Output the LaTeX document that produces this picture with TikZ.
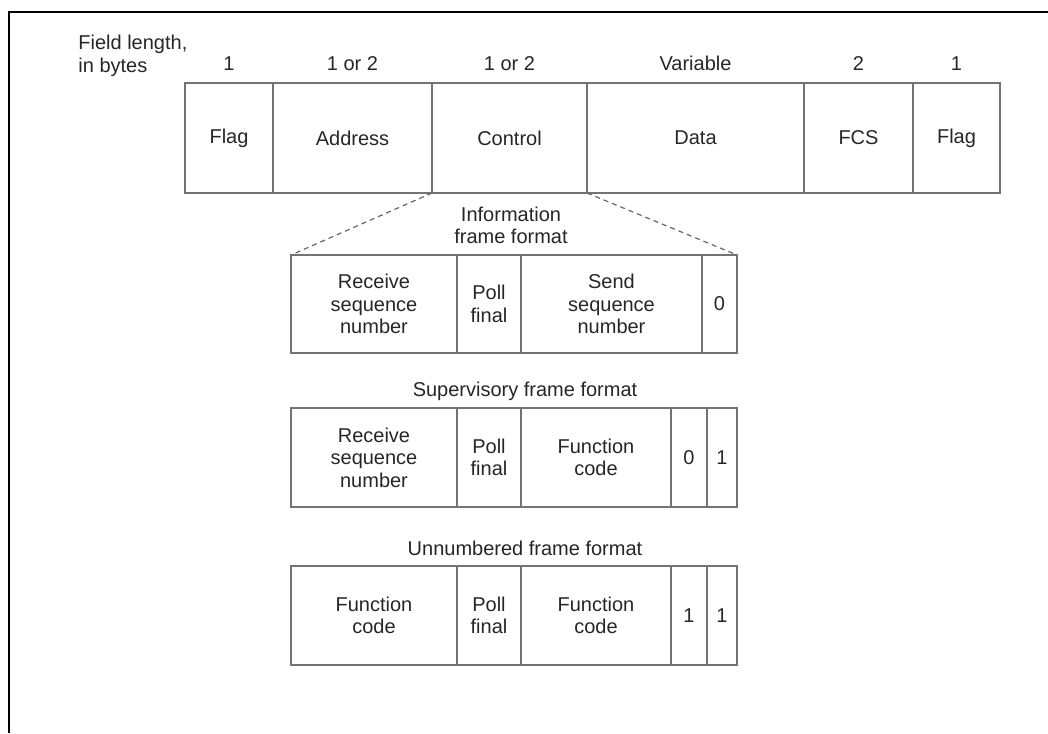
\documentclass[tikz,border=0pt]{standalone}
\usepackage{fontspec}
\setmainfont{Liberation Sans}
\usetikzlibrary{positioning}

\tikzset{
  cell/.style={draw=black!55, line width=0.8pt, rectangle, inner sep=0pt, outer sep=0pt,
    align=center, text=black!85, font=\fontsize{10}{11.3}\selectfont},
  toprow/.style={cell, minimum height=55pt},
  subrow/.style={cell, minimum height=49.5pt},
  lenlabel/.style={inner sep=0pt, text depth=0pt, text=black!85, font=\fontsize{10}{11.3}\selectfont},
  fmttitle/.style={inner sep=0pt, align=center, text=black!85, font=\fontsize{10}{11}\selectfont},
  zoomline/.style={draw=black!60, line width=0.6pt, dash pattern=on 2.5pt off 2pt},
}

\begin{document}
\begin{tikzpicture}[x=0.5pt, y=-0.5pt]
  \useasboundingbox (0,0) rectangle (1048,733);

  % Outer frame, top and left edges
  \draw[line width=1pt] (1048,12) -- (8.5,12) -- (8.5,733);

  % Field length caption
  \node[lenlabel, align=left, anchor=north west] (caption) at (78,35) {Field length,\\in bytes};

  % Main frame
  \node[toprow, minimum width=44pt, anchor=north west] (flagA) at (185,83) {Flag};
  \node[toprow, minimum width=79.5pt, right=0pt of flagA] (addr) {Address};
  \node[toprow, minimum width=77.5pt, right=0pt of addr] (ctrl) {Control};
  \node[toprow, minimum width=108.5pt, right=0pt of ctrl] (data) {Data};
  \node[toprow, minimum width=54.5pt, right=0pt of data] (fcs) {FCS};
  \node[toprow, minimum width=43.5pt, right=0pt of fcs] (flagB) {Flag};

  % Field lengths
  \node[lenlabel, above=6pt of flagA.north] (lenflagA) {1};
  \node[lenlabel, above=6pt of addr.north] (lenaddr) {1 or 2};
  \node[lenlabel, above=6pt of ctrl.north] (lenctrl) {1 or 2};
  \node[lenlabel, above=6pt of data.north] (lendata) {Variable};
  \node[lenlabel, above=6pt of fcs.north] (lenfcs) {2};
  \node[lenlabel, above=6pt of flagB.north] (lenflagB) {1};

  % Information frame format
  \node[fmttitle, anchor=north] (infotitle) at (511,207) {Information\\frame format};
  \node[subrow, minimum height=49pt, minimum width=83pt, anchor=north west] (infoRecv) at (291,255) {Receive\\sequence\\number};
  \node[subrow, minimum height=49pt, minimum width=32pt, right=0pt of infoRecv] (infoPoll) {Poll\\final};
  \node[subrow, minimum height=49pt, minimum width=90.5pt, right=0pt of infoPoll] (infoSend) {Send\\sequence\\number};
  \node[subrow, minimum height=49pt, minimum width=17.5pt, right=0pt of infoSend] (infoBit) {0};

  % Dashed zoom lines from the control field
  \draw[zoomline] (ctrl.south west) -- (infoRecv.north west);
  \draw[zoomline] (ctrl.south east) -- (infoBit.north east);

  % Supervisory frame format
  \node[fmttitle, anchor=base] (suptitle) at (525,396) {Supervisory frame format};
  \node[subrow, minimum width=83pt, anchor=north west] (supRecv) at (291,408) {Receive\\sequence\\number};
  \node[subrow, minimum width=32pt, right=0pt of supRecv] (supPoll) {Poll\\final};
  \node[subrow, minimum width=75pt, right=0pt of supPoll] (supFunc) {Function\\code};
  \node[subrow, minimum width=18pt, right=0pt of supFunc] (supBitA) {0};
  \node[subrow, minimum width=15pt, right=0pt of supBitA] (supBitB) {1};

  % Unnumbered frame format
  \node[fmttitle, anchor=base] (unntitle) at (525,555) {Unnumbered frame format};
  \node[subrow, minimum width=83pt, anchor=north west] (unnFuncA) at (291,566) {Function\\code};
  \node[subrow, minimum width=32pt, right=0pt of unnFuncA] (unnPoll) {Poll\\final};
  \node[subrow, minimum width=75pt, right=0pt of unnPoll] (unnFuncB) {Function\\code};
  \node[subrow, minimum width=18pt, right=0pt of unnFuncB] (unnBitA) {1};
  \node[subrow, minimum width=15pt, right=0pt of unnBitA] (unnBitB) {1};

\end{tikzpicture}
\end{document}
